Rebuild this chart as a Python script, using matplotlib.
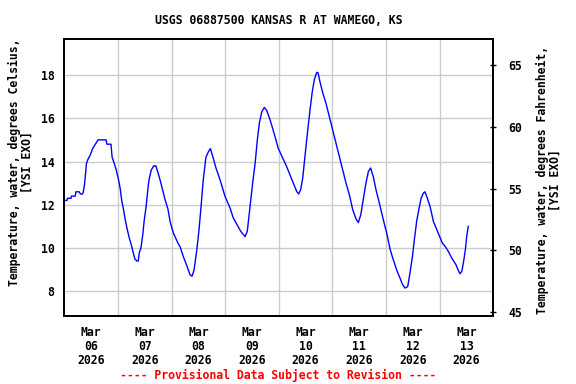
import pandas as pd
import matplotlib
matplotlib.use('Agg')
import matplotlib.pyplot as plt
import matplotlib.dates as mdates

# Water temperature readings, hours after 2026-03-06 00:00 and degrees Celsius
hours = [0.0, 1.2, 1.4, 3.0, 3.2, 4.9, 5.2, 6.7, 7.2, 8.2, 8.5, 9.0, 9.4, 9.9,
         10.6, 11.6, 12.7, 13.9, 14.5, 15.1, 18.7, 19.1, 20.9, 21.4, 22.4, 23.3,
         24.4, 25.1, 25.7, 26.4, 27.3, 28.1, 29.0, 30.0, 30.8, 31.6, 32.5, 33.1,
         33.6, 34.3, 35.1, 35.8, 36.6, 37.5, 38.0, 38.9, 40.0, 41.0, 41.9, 43.0,
         44.0, 45.2, 46.4, 47.4, 48.8, 51.0, 51.8, 53.3, 54.8, 56.3, 57.2, 58.1,
         59.3, 60.3, 61.2, 62.2, 63.4, 64.5, 65.4, 66.4, 67.9, 69.7, 71.9, 74.2,
         75.6, 77.2, 79.0, 80.9, 81.9, 83.1, 84.3, 85.4, 86.4, 87.3, 88.4, 89.5,
         90.6, 92.1, 93.9, 95.8, 98.0, 99.5, 101.0, 102.5, 104.0, 104.9, 105.8,
         106.7, 107.7, 108.8, 110.0, 111.0, 111.9, 113.0, 113.6, 114.4, 115.7,
         117.1, 118.6, 120.1, 121.6, 123.1, 124.6, 126.1, 127.6, 129.1, 130.6,
         131.6, 132.7, 133.8, 135.0, 136.1, 137.1, 138.3, 139.5, 141.0, 142.8,
         144.3, 145.8, 147.0, 148.0, 149.0, 150.3, 151.3, 152.5, 153.7, 154.7,
         155.8, 156.7, 157.7, 158.8, 159.7, 160.7, 161.4, 162.5, 163.7, 165.2,
         166.7, 168.2, 169.2, 170.7, 171.9, 173.4, 175.3, 176.2, 177.1, 177.9,
         178.6, 179.5, 180.1, 180.8]
temp_c = [12.2, 12.2, 12.3, 12.3, 12.4, 12.4, 12.6, 12.6, 12.5, 12.5, 12.6, 12.9, 13.3, 13.9,
          14.1, 14.3, 14.6, 14.8, 14.9, 15.0, 15.0, 14.8, 14.8, 14.2, 13.9, 13.6,
          13.1, 12.7, 12.2, 11.85, 11.3, 10.9, 10.5, 10.15, 9.8, 9.5, 9.4, 9.4,
          9.8, 10.0, 10.6, 11.3, 11.9, 12.8, 13.2, 13.6, 13.8, 13.8, 13.5, 13.1,
          12.7, 12.2, 11.8, 11.2, 10.7, 10.2, 10.07, 9.6, 9.2, 8.76, 8.7, 9.0,
          9.9, 10.85, 11.9, 13.16, 14.2, 14.45, 14.6, 14.25, 13.7, 13.16, 12.4, 11.85,
          11.4, 11.1, 10.77, 10.53, 10.77, 11.9, 13.0, 13.9, 15.0, 15.78, 16.3, 16.5,
          16.36, 15.93, 15.3, 14.6, 14.1, 13.77, 13.39, 13.0, 12.62, 12.5, 12.7,
          13.23, 14.23, 15.3, 16.4, 17.24, 17.78, 18.12, 18.1, 17.7, 17.16,
          16.7, 16.08, 15.47, 14.85, 14.23, 13.62, 13.0, 12.46, 11.77, 11.34,
          11.18, 11.54, 12.23, 13.0, 13.54, 13.7, 13.3, 12.7, 12.08, 11.3,
          10.69, 9.95, 9.54, 9.23, 8.92, 8.6, 8.33, 8.15, 8.22, 8.84,
          9.6, 10.4, 11.23, 11.85, 12.3, 12.54, 12.6, 12.3, 11.92, 11.23,
          10.85, 10.46, 10.23, 10.04, 9.84, 9.54, 9.23, 9.0, 8.81, 8.92,
          9.3, 9.92, 10.53, 11.0]
c_ticks = [8, 10, 12, 14, 16, 18]
f_ticks = [45, 50, 55, 60, 65]
day_labels = ['Mar\n06\n2026', 'Mar\n07\n2026', 'Mar\n08\n2026', 'Mar\n09\n2026',
              'Mar\n10\n2026', 'Mar\n11\n2026', 'Mar\n12\n2026', 'Mar\n13\n2026']

start = pd.Timestamp('2026-03-06')
times = start + pd.to_timedelta(hours, unit='h')

font = 'DejaVu Sans Mono'
fs = 8.3

fig = plt.figure(figsize=(5.76, 3.84), dpi=100)
ax = fig.add_axes([0.1116, 0.1771, 0.7448, 0.7206])

ax.plot(times, temp_c, color='#0000ff', lw=1.0)

# x axis: grid at midnight, labels at noon
ax.set_xlim(start, start + pd.Timedelta(days=8))
midnights = [start + pd.Timedelta(days=d) for d in range(1, 8)]
noons = [start + pd.Timedelta(hours=12 + 24 * d) for d in range(8)]
ax.set_xticks(midnights)
ax.set_xticklabels([])
ax.set_xticks(noons, minor=True)
ax.set_xticklabels(day_labels, minor=True, fontfamily=font, fontsize=fs,
                   fontweight='bold', linespacing=1.1)
ax.tick_params(axis='x', which='both', length=0, pad=7)
ax.xaxis.grid(True, which='major', color='#cccccc', lw=1.0)

ax.set_ylim(6.86, 19.65)
ax.set_yticks(c_ticks)
ax.set_yticklabels([str(t) for t in c_ticks], fontfamily=font, fontsize=fs,
                   fontweight='bold')
ax.tick_params(axis='y', length=0, pad=7)
ax.yaxis.grid(True, color='#cccccc', lw=1.0)
ax.set_axisbelow(True)

ax2 = ax.twinx()
ax2.set_ylim(44.71, 67.06)
ax2.set_yticks(f_ticks)
ax2.set_yticklabels([str(t) for t in f_ticks], fontfamily=font, fontsize=fs,
                    fontweight='bold')
ax2.tick_params(axis='y', direction='inout', length=4, width=1, pad=9)

for a in (ax, ax2):
    for s in a.spines.values():
        s.set_linewidth(1.3)
        s.set_color('black')

fig.text(0.484, 1 - 20 / 384, 'USGS 06887500 KANSAS R AT WAMEGO, KS',
         ha='center', va='center', fontfamily=font, fontsize=fs, fontweight='bold')
fig.text(21 / 576, 1 - 162 / 384, 'Temperature, water, degrees Celsius,\n[YSI EXO]',
         rotation=90, ha='center', va='center', fontfamily=font, fontsize=fs,
         fontweight='bold', linespacing=1.0, multialignment='center')
fig.text(549 / 576, 1 - 180 / 384, 'Temperature, water, degrees Fahrenheit,\n[YSI EXO]',
         rotation=90, ha='center', va='center', fontfamily=font, fontsize=fs,
         fontweight='bold', linespacing=1.0, multialignment='center')
fig.text(0.482, 1 - 375 / 384, '---- Provisional Data Subject to Revision ----',
         ha='center', va='center', color='red', fontfamily=font, fontsize=fs,
         fontweight='bold')

fig.savefig('out.png', dpi=100)
